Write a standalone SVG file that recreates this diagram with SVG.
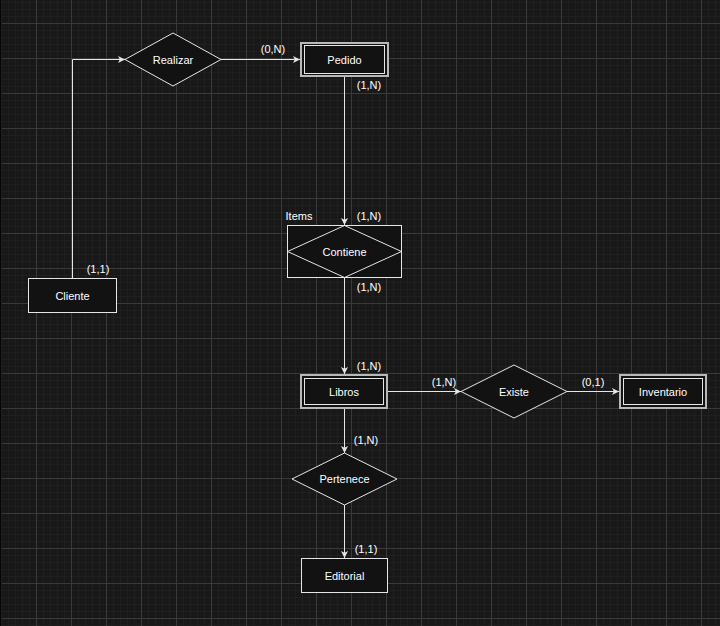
<svg xmlns="http://www.w3.org/2000/svg" width="720" height="626" viewBox="0 0 720 626">
<style>
.bg{fill:#181818}
.n{fill:#121212;stroke:#e6e6e6;stroke-width:1}
.o{fill:#121212;stroke:#b8b8b8;stroke-width:2}
.i{fill:none;stroke:#e6e6e6;stroke-width:1}
.t{font-family:"Liberation Sans",Arial,sans-serif;font-size:11px;fill:#ffffff;text-anchor:middle;dominant-baseline:central}
.c{font-family:"Liberation Sans",Arial,sans-serif;font-size:11px;fill:#ffffff;text-anchor:middle;dominant-baseline:central}
.e{fill:none;stroke:#e6e6e6;stroke-width:1}
</style>
<defs>
<pattern id="minor" x="1" y="23" width="7" height="7" patternUnits="userSpaceOnUse">
<path d="M0 0H7M0 0V7" stroke="#252525" stroke-width="1" fill="none"/>
</pattern>
<pattern id="major" x="1" y="23" width="35" height="35" patternUnits="userSpaceOnUse">
<path d="M0 0.5H35M0.5 0V35" stroke="#3a3a3a" stroke-width="1" fill="none"/>
</pattern>
<marker id="arr" markerWidth="8" markerHeight="8" refX="7" refY="4" orient="auto" markerUnits="userSpaceOnUse">
<path d="M0 0.5L7 4L0 7.5L1.8 4Z" fill="#e6e6e6"/>
</marker>
</defs>
<rect class="bg" width="720" height="626"/>
<rect width="720" height="626" fill="url(#minor)"/>
<rect width="720" height="626" fill="url(#major)"/>
<rect x="0" y="0" width="1.5" height="626" fill="#050505"/>

<g id="connectors">
<path class="e" d="M72.5 278V59.5H125" marker-end="url(#arr)"/>
<path class="e" d="M221 59.5H300" marker-end="url(#arr)"/>
<path class="e" d="M344.5 77V225" marker-end="url(#arr)"/>
<path class="e" d="M344.5 278V374" marker-end="url(#arr)"/>
<path class="e" d="M388 391.5H461" marker-end="url(#arr)"/>
<path class="e" d="M567 391.5H619" marker-end="url(#arr)"/>
<path class="e" d="M344.5 409V453" marker-end="url(#arr)"/>
<path class="e" d="M344.5 505V558" marker-end="url(#arr)"/>
<text class="c" x="273" y="49">(0,N)</text>
<text class="c" x="369" y="85">(1,N)</text>
<text class="c" x="369" y="216">(1,N)</text>
<text class="c" x="369" y="287">(1,N)</text>
<text class="c" x="369" y="366">(1,N)</text>
<text class="c" x="444" y="382">(1,N)</text>
<text class="c" x="593" y="382">(0,1)</text>
<text class="c" x="366" y="440">(1,N)</text>
<text class="c" x="366" y="549">(1,1)</text>
<text class="c" x="98" y="269">(1,1)</text>
</g>

<g id="cliente">
<rect class="n" x="28.5" y="278.5" width="88" height="34"/>
<text class="t" x="72.5" y="295.5">Cliente</text>
</g>
<g id="realizar">
<path class="n" d="M125 59.5L173 33L221 59.5L173 86Z"/>
<text class="t" x="173" y="59.5">Realizar</text>
</g>
<g id="pedido">
<rect class="o" x="301" y="43" width="87" height="33"/>
<rect class="i" x="304.5" y="45.5" width="80" height="28"/>
<text class="t" x="344.5" y="59.5">Pedido</text>
</g>
<g id="contiene">
<rect class="n" x="287.5" y="225.5" width="114" height="52"/>
<path class="i" d="M287.5 251.5L344.5 225.5L401.5 251.5L344.5 277.5Z"/>
<text class="t" x="344.5" y="251.5">Contiene</text>
<text class="t" x="299" y="216">Items</text>
</g>
<g id="libros">
<rect class="o" x="301" y="375" width="86" height="33"/>
<rect class="i" x="304.5" y="378.5" width="79" height="26"/>
<text class="t" x="344" y="391.5">Libros</text>
</g>
<g id="existe">
<path class="n" d="M461 391.5L514 365L567 391.5L514 418Z"/>
<text class="t" x="514" y="391.5">Existe</text>
</g>
<g id="inventario">
<rect class="o" x="620" y="375" width="86" height="33"/>
<rect class="i" x="623.5" y="378.5" width="79" height="26"/>
<text class="t" x="663" y="391.5">Inventario</text>
</g>
<g id="pertenece">
<path class="n" d="M292 479L344.5 453L397 479L344.5 505Z"/>
<text class="t" x="344.5" y="479">Pertenece</text>
</g>
<g id="editorial">
<rect class="n" x="301.5" y="558.5" width="86" height="34"/>
<text class="t" x="344.5" y="575.5">Editorial</text>
</g>
</svg>
